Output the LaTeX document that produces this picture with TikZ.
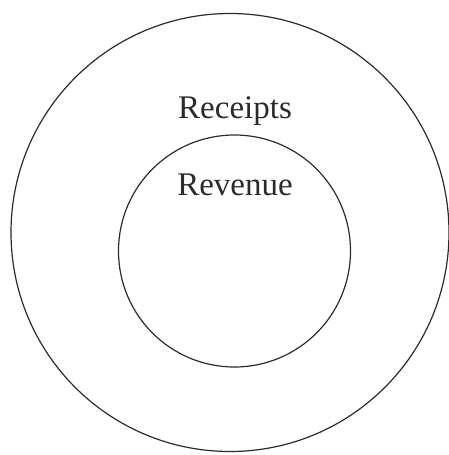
\documentclass[tikz,border=0pt]{standalone}
\usepackage{fontspec}
\setmainfont{Liberation Serif}
\usepackage{xcolor}
\definecolor{ink}{HTML}{2B2B2B}
\usepackage{tikz}
\usetikzlibrary{positioning}
\tikzset{
    ring/.style={circle, draw=ink, line width=1.2pt, inner sep=0pt, outer sep=0pt},
    caption/.style={anchor=base, text=ink, inner sep=0pt, font=\fontsize{33}{40}\selectfont}
}
\begin{document}
\begin{tikzpicture}[x=1pt, y=-1pt]
  \useasboundingbox (0,0) rectangle (449,455);

  % Outer and inner rings
  \node[ring, minimum size=438pt] (receipts_ring) at (230,232.5) {};
  \node[ring, minimum size=232pt] (revenue_ring) at (234.5,251) {};

  % Labels
  \node[caption] (receipts) at (235,118) {Receipts};
  \node[caption] (revenue) at (235,195) {Revenue};
\end{tikzpicture}
\end{document}
